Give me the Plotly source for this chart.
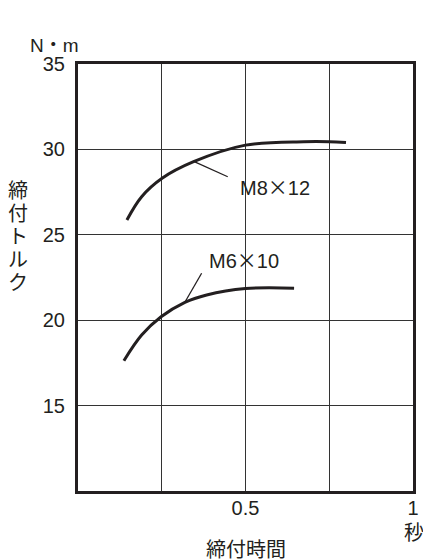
import plotly.graph_objects as go

# curves (time in s, torque in N·m)
m8_time = [0.146, 0.19, 0.251, 0.345, 0.5, 0.674, 0.75, 0.8]
m8_torque = [25.87, 27.23, 28.31, 29.28, 30.25, 30.45, 30.45, 30.4]
m6_time = [0.137, 0.19, 0.248, 0.319, 0.384, 0.5, 0.645]
m6_torque = [17.63, 19.13, 20.2, 21.05, 21.48, 21.85, 21.87]

x_ticks = [0.25, 0.5, 0.75, 1]
x_labels = ['', '0.5', '', '1']
y_ticks = [15, 20, 25, 30, 35]

ink = '#231f20'
font = 'Liberation Sans, Arial, sans-serif'
jp_font = 'Noto Sans CJK JP, sans-serif'
cross = '<span style="font-family:Noto Sans CJK JP">×</span>'
dot = '<span style="font-family:Noto Sans CJK JP">・</span>'

fig = go.Figure()
fig.add_trace(go.Scatter(x=m8_time, y=m8_torque, mode='lines', line=dict(color=ink, width=3, shape='spline')))
fig.add_trace(go.Scatter(x=m6_time, y=m6_torque, mode='lines', line=dict(color=ink, width=3, shape='spline')))

# leader lines to the curve labels
fig.add_trace(go.Scatter(x=[0.347, 0.447], y=[29.28, 28.4], mode='lines', line=dict(color=ink, width=1.3)))
fig.add_trace(go.Scatter(x=[0.319, 0.369], y=[21.05, 22.75], mode='lines', line=dict(color=ink, width=1.3)))

fig.add_annotation(x=0.589, y=27.82, text='M8' + cross + '12', showarrow=False, font=dict(family=font, size=20, color=ink))
fig.add_annotation(x=0.495, y=23.57, text='M6' + cross + '10', showarrow=False, font=dict(family=font, size=20, color=ink))

# axis titles / units
fig.add_annotation(x=-0.07, y=1.047, xref='paper', yref='paper', text='N' + dot + 'm', showarrow=False,
                   xanchor='center', yanchor='middle', font=dict(family=font, size=19, color=ink))
for i, ch in enumerate('締付トルク'):
    fig.add_annotation(x=-0.179, y=0.707 - i * 0.054, xref='paper', yref='paper', text=ch, showarrow=False,
                       xanchor='center', yanchor='middle', font=dict(family=jp_font, size=20, color=ink))
fig.add_annotation(x=0.5, y=-0.134, xref='paper', yref='paper', text='締付時間', showarrow=False,
                   xanchor='center', yanchor='middle', font=dict(family=jp_font, size=20, color=ink))
fig.add_annotation(x=1.003, y=-0.096, xref='paper', yref='paper', text='秒', showarrow=False,
                   xanchor='center', yanchor='middle', font=dict(family=jp_font, size=20, color=ink))

fig.update_layout(
    width=423, height=552,
    margin=dict(l=70, r=12, t=56, b=69),
    plot_bgcolor='white', paper_bgcolor='white',
    showlegend=False,
    xaxis=dict(range=[0, 1], tickvals=x_ticks, ticktext=x_labels, showgrid=True, gridcolor='#333', gridwidth=1.3,
               showline=True, linecolor=ink, linewidth=3, mirror=True, zeroline=False,
               ticks='', ticklabelstandoff=-3,
               tickfont=dict(family=font, size=20, color=ink)),
    yaxis=dict(range=[10, 35], tickvals=y_ticks, showgrid=True, gridcolor='#333', gridwidth=1.3,
               showline=True, linecolor=ink, linewidth=3, mirror=True, zeroline=False,
               ticks='outside', ticklen=6, tickcolor='rgba(0,0,0,0)',
               tickfont=dict(family=font, size=20, color=ink)),
)

fig.write_html('out.html')
